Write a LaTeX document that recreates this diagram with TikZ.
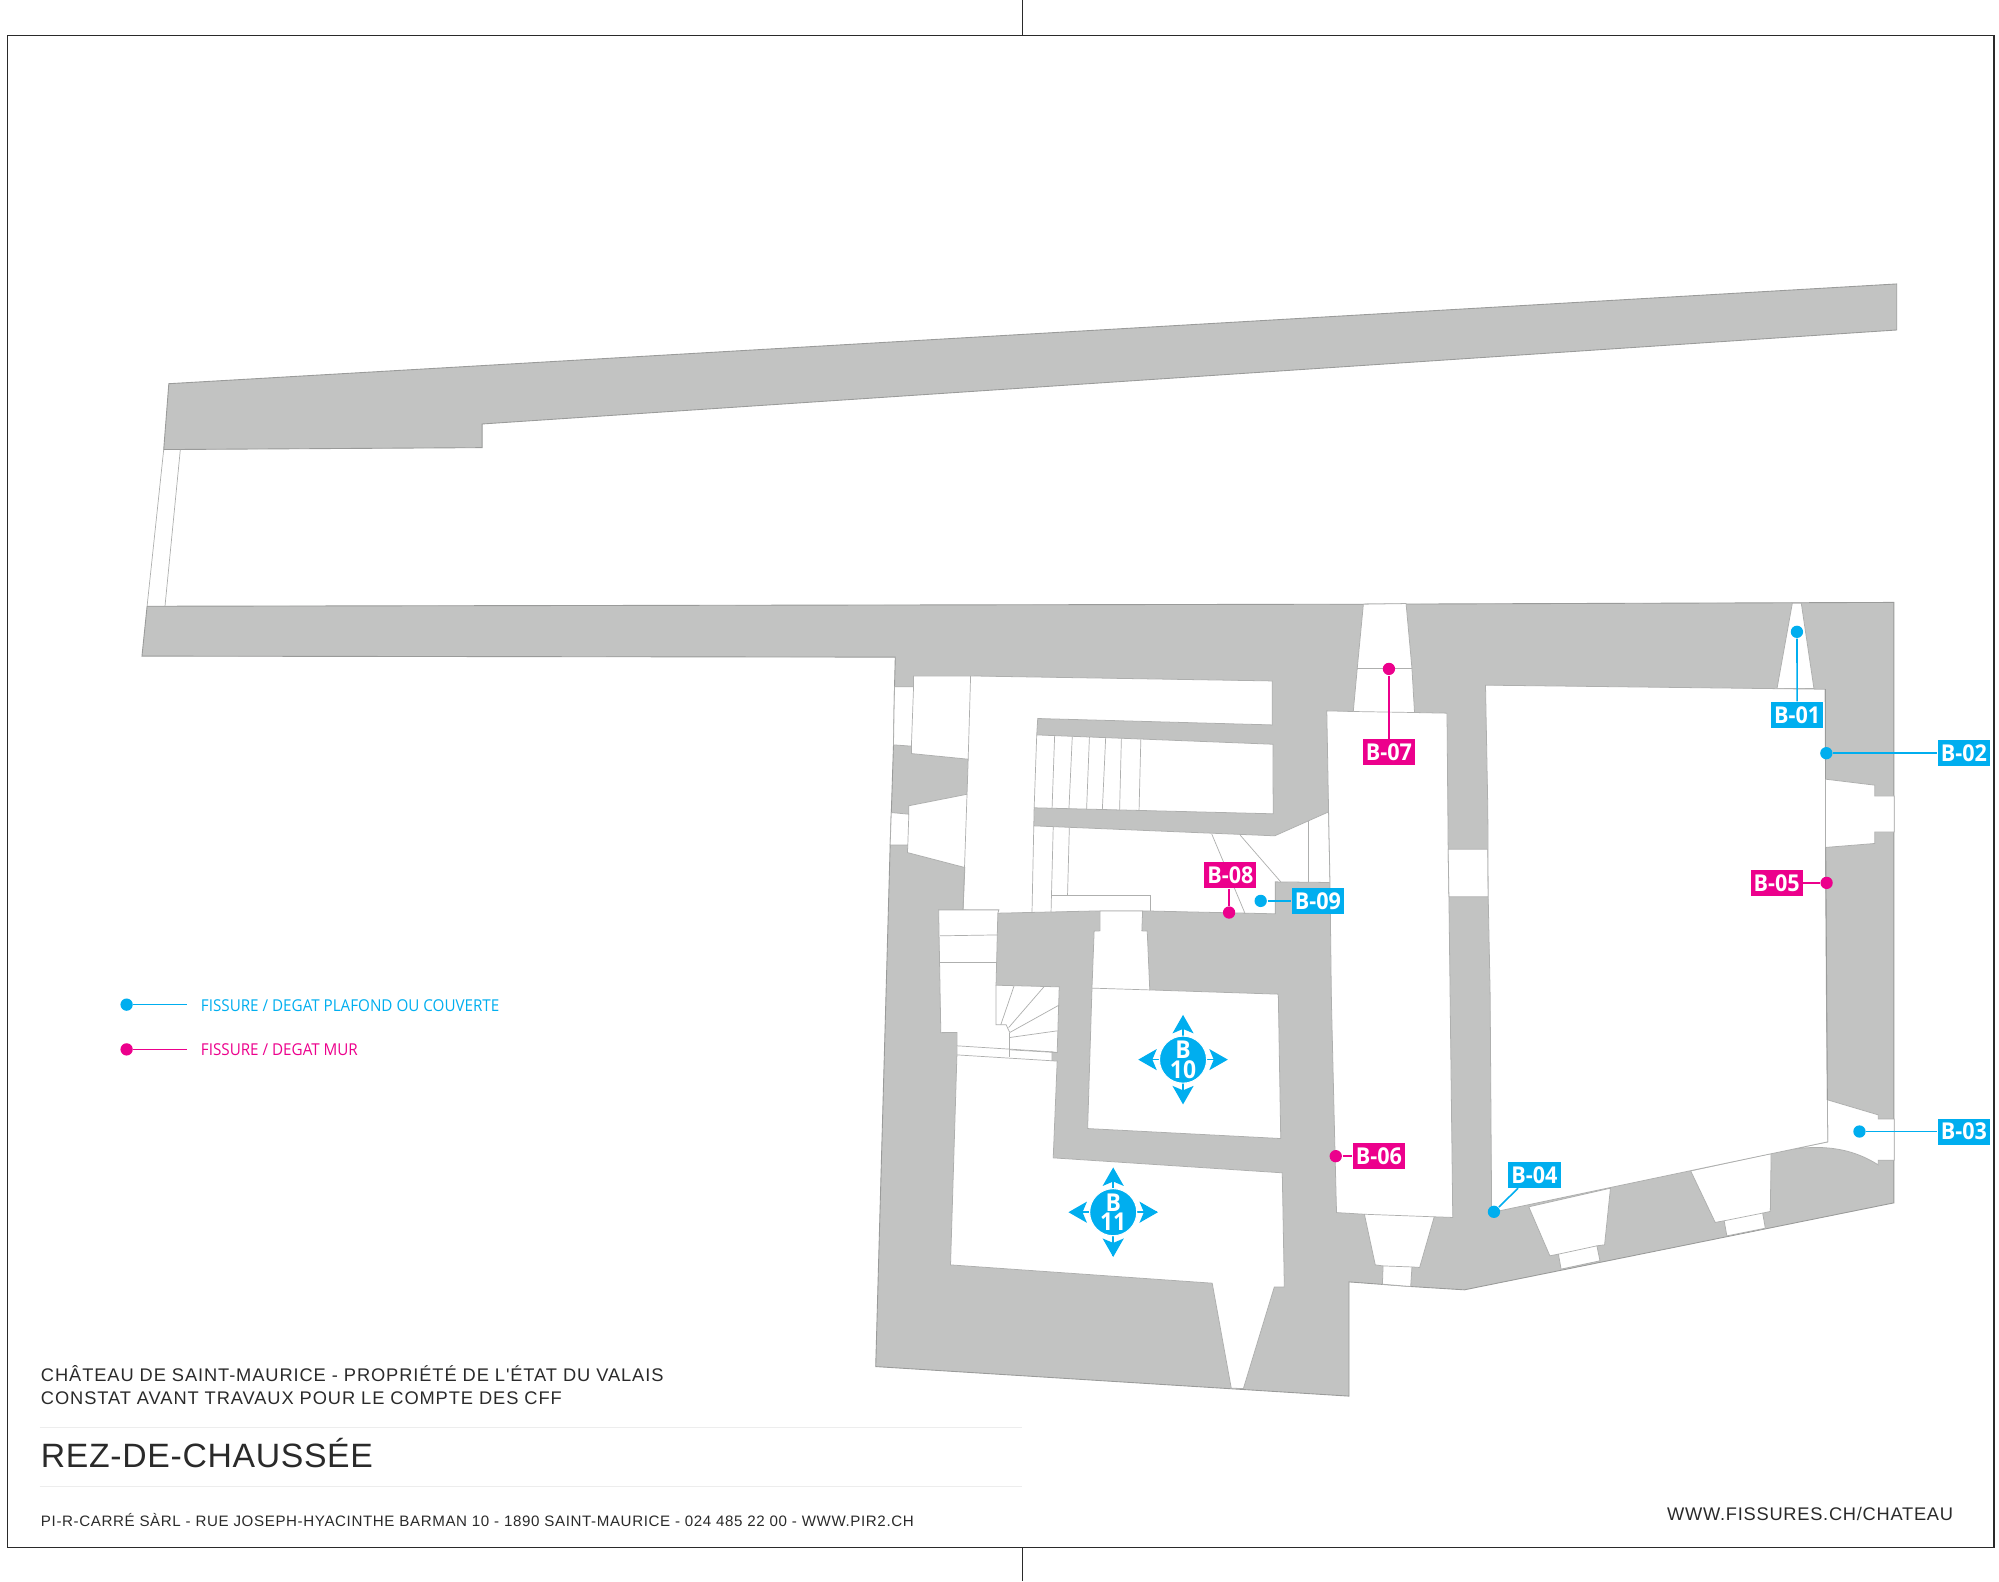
\documentclass[tikz,border=0pt]{standalone}
\usepackage{fontspec}
\setmainfont{Liberation Sans}
\newfontfamily\myr[FakeStretch=0.93]{Open Sans}
\newfontfamily\capa[LetterSpace=4.9]{Liberation Sans}
\newfontfamily\capc[LetterSpace=2]{Liberation Sans}
\newfontfamily\capb[LetterSpace=4.1]{Liberation Sans}
\newfontfamily\capd[LetterSpace=4]{Liberation Sans}
\definecolor{wall}{HTML}{C2C3C2}
\definecolor{edge}{HTML}{9A9B9A}
\definecolor{thin}{HTML}{AEAFAE}
\definecolor{cy}{HTML}{00AEEF}
\definecolor{mg}{HTML}{EC008C}
\definecolor{ink}{HTML}{2A2A2A}
\tikzset{
  x=0.012790cm,y=-0.012790cm,
  wallshape/.style={fill=wall,draw=edge,line width=0.25pt,line join=miter},
  room/.style={fill=white,draw=thin,line width=0.22pt},
  fine/.style={draw=thin,line width=0.2pt},
  frameline/.style={draw=ink,line width=0.35pt},
  rule/.style={draw=black!7,line width=0.25pt},
  dotc/.style={circle,fill=cy,inner sep=0pt,minimum size=3.5pt},
  dotm/.style={circle,fill=mg,inner sep=0pt,minimum size=3.5pt},
  linkc/.style={draw=cy,line width=0.45pt},
  linkm/.style={draw=mg,line width=0.45pt},
  tagbase/.style={inner sep=0pt,minimum width=14.8pt,minimum height=7.4pt,text=white,font=\myr\bfseries\fontsize{6.6}{7}\selectfont},
  tagc/.style={tagbase,fill=cy},
  tagm/.style={tagbase,fill=mg},
  legend/.style={anchor=west,inner sep=0pt,font=\myr\fontsize{4.65}{6}\selectfont},
  caption/.style={anchor=base west,inner sep=0pt,text=ink},
  hub/.style={circle,fill=cy,draw=white,line width=0.3pt,inner sep=0pt,minimum size=13.4pt,text=white,align=center,font=\myr\bfseries\fontsize{7}{5.6}\selectfont},
}
\newcommand\compassmark[4]{%
  \begin{scope}[shift={(#2,#3)}]
    \foreach \a in {0,90,180,270}{
      \begin{scope}[rotate=\a]
        \draw[cy,line width=0.45pt] (0,0) -- (34,0);
        \fill[cy] (35,0) -- (20.5,8.3) -- (24,0) -- (20.5,-8.3) -- cycle;
      \end{scope}
    }
    \node[hub] (#1) at (0,0) {B\\#4};
  \end{scope}}
\begin{document}
\begin{tikzpicture}
\useasboundingbox (0,0) rectangle (1563,1236.17);
% frame
\draw[frameline] (6,28) rectangle (1559,1210);
\coordinate (ta) at (799.5,0); \coordinate (tb) at (799.5,28);
\coordinate (ba) at (799.5,1210); \coordinate (bb) at (799.5,1236.17);
\draw[frameline] (ta) -- (tb);
\draw[frameline] (ba) -- (bb);
% upper terrace wall
\draw[wallshape] (132,300) -- (1483,222) -- (1483,258) -- (377,331.5) -- (377,350) -- (128,351.5) -- cycle;
\draw[fine] (128,351.5) -- (115,474);
\draw[fine] (141,351.5) -- (129,474);
% main building mass
\draw[wallshape] (115,474) -- (1066,472.4) -- (1480.8,471) -- (1480.8,940.5) -- (1145,1008.5) -- (1103,1005.9) -- (1054.8,1002.3) -- (1054.8,1091.6) -- (684.7,1068.5) -- (696,660.6) -- (696.9,635.3) -- (698.6,582.4) -- (699.4,537) -- (700,513.8) -- (111,513) -- cycle;
% room A
\draw[room] (714.3,528.5) -- (758.9,528.5) -- (994.7,532.4) -- (994.7,566.8) -- (811.4,561.8) -- (810.6,574.6) -- (995.3,581.9) -- (995.5,636.3) -- (808.6,631.6) -- (808.3,645.7) -- (996.7,653.5) -- (1038.8,634.8) -- (1039.9,690) -- (997.2,689.5) -- (997.2,714.5) -- (893.4,712.2) -- (860,712.2) -- (780.2,714) -- (753,711.4) -- (754.4,678.3) -- (709.5,666.6) -- (709.8,660.6) -- (696,660.6) -- (696.9,635.3) -- (710.6,636.6) -- (710.6,630) -- (756.1,621) -- (757,593.6) -- (712.6,589.2) -- (712.6,583.4) -- (698.6,582.4) -- (699.4,537) -- (714.3,537) -- cycle;
% room 10 and passage
\draw[room] (860,712.2) -- (860,727.8) -- (855.5,728) -- (853.8,772.6) -- (850.4,882.4) -- (1001.4,890.2) -- (999.5,777.3) -- (899,774) -- (897,728) -- (892.8,727.8) -- (893.4,712.2) -- cycle;
\draw[fine] (853.8,772.6) -- (899,774);
% stair hall and room 11
\draw[room] (733.9,711.4) -- (781,711.4) -- (780.2,714) -- (778.8,770.3) -- (828.2,771.6) -- (826.6,823) -- (822.6,822.4) -- (822.6,829.4) -- (826.6,829.6) -- (823.5,905.3) -- (1002.6,917) -- (1004.2,1006.2) -- (996.4,1006.2) -- (972.2,1085.7) -- (962.7,1085.4) -- (947.8,1003.3) -- (743.2,989) -- (748.2,824.8) -- (748.2,807.3) -- (735.6,807.4) -- cycle;
% room C
\draw[room] (1037.4,555.8) -- (1058.1,556.3) -- (1061.2,522.7) -- (1066,472.4) -- (1099.4,471.9) -- (1104,522.7) -- (1106,557.1) -- (1131.4,557.6) -- (1132.3,664) -- (1132.9,701.2) -- (1135.9,951.9) -- (1121.4,951.4) -- (1110,991) -- (1104,990.6) -- (1103,1005.9) -- (1080.9,1004.1) -- (1081.4,989.8) -- (1075.3,989) -- (1066.8,949.4) -- (1045,948.1) -- (1043.5,888) -- (1041,782) -- (1039.9,690) -- (1038.8,634.8) -- cycle;
\draw[fine] (1061.2,522.7) -- (1104,522.7);
\draw[fine] (1058.1,556.3) -- (1106,557.1);
\draw[fine] (1066.8,949.4) -- (1121.4,951.4);
\draw[fine] (1081.4,989.8) -- (1104,990.6);
% door between C and D
\draw[room] (1132.3,664) -- (1163.3,664) -- (1163.6,701.2) -- (1132.9,701.2) -- cycle;
% room D and recesses
\draw[room] (1401.4,471.6) -- (1408.4,471.6) -- (1418.3,538.4) -- (1389.4,538.4) -- cycle;
\draw[room] (1427.3,609.2) -- (1465.9,613.9) -- (1465.9,622.3) -- (1481,622.3) -- (1481,650.6) -- (1465.9,650.6) -- (1465.9,659.5) -- (1427.3,662.6) -- cycle;
\draw[room] (1195.3,943.6) -- (1211.8,981.9) -- (1218.5,980.6) -- (1220.6,992.3) -- (1251,985.8) -- (1248.6,974.1) -- (1254.6,973.3) -- (1259.2,929) -- cycle;
\draw[fine] (1218.5,980.6) -- (1248.6,974.1);
\draw[room] (1321.9,915.5) -- (1341.1,955.8) -- (1348.1,954.5) -- (1350.2,966.3) -- (1380.3,960.3) -- (1378.2,948.5) -- (1384.2,947.2) -- (1384.8,901.9) -- cycle;
\draw[fine] (1348.1,954.5) -- (1378.2,948.5);
\draw[room] (1428.8,859.9) -- (1468.6,871.7) -- (1468.6,875) -- (1481,875) -- (1481,907.1) -- (1468.6,907.1) -- (1468.6,910.8) .. controls (1450,899) and (1425,892) .. (1384.8,901.9) -- (1429.1,892.8) -- cycle;
\draw[room] (1161.5,535.7) -- (1427,538.9) -- (1427.3,609.2) -- (1427.3,662.6) -- (1428,776) -- (1428.8,859.9) -- (1429.1,892.8) -- (1166.3,948) -- (1165.1,776) -- (1163.6,701) -- (1163.3,632.7) -- cycle;
\draw[edge,line width=0.25pt] (1427.3,538.9) -- (1427.3,609.2);
\draw[edge,line width=0.25pt] (1427.5,662.6) -- (1428.8,859.9);
% lines inside room A
\draw[fine] (758.9,528.5) -- (757,593.6);
\draw[fine] (756.1,621) -- (753,711.4);
\draw[fine] (714.3,537) -- (712.6,583.4);
\draw[fine] (710.6,636.6) -- (709.8,660.6);
\draw[fine] (810.6,574.6) -- (808.6,631.6);
\draw[fine] (824.6,575.4) -- (822.6,631.9);
\draw[fine] (838.4,575.9) -- (835.8,632.4);
\draw[fine] (851.8,576.4) -- (849.6,632.7);
\draw[fine] (864.5,576.9) -- (861.9,633.2);
\draw[fine] (876.8,577.4) -- (875.4,633.5);
\draw[fine] (892,578.2) -- (890.6,634);
\draw[fine] (808.3,645.7) -- (806.9,714);
\draw[fine] (823.5,646.5) -- (821.8,713);
\draw[fine] (836.1,647.3) -- (834.7,699.7);
\draw[fine] (821.8,699.7) -- (899.8,699.7) -- (899.8,712.2);
\draw[fine] (947.5,652.2) -- (973.6,714.5);
\draw[fine] (969.7,653) -- (1001.4,689.5);
\draw[fine] (1023,641.8) -- (1023,690);
% stair lines
\draw[fine] (734.8,731.7) -- (780.2,731);
\draw[fine] (734.8,752.8) -- (779.7,752.8);
\draw[fine] (748.2,817.7) -- (822.6,822.4);
\draw[fine] (748.2,824.8) -- (822.6,829.4);
\draw[fine] (789.5,807.3) -- (789.5,826.8);
\draw[fine] (778.8,770.3) -- (778.8,801.3) -- (786.7,801.3) -- (789.5,807.3);
\draw[fine] (792.9,770.8) -- (782.5,801.3);
\draw[fine] (816.2,771.6) -- (788.7,803.4);
\draw[fine] (828,785.9) -- (789.5,807.3);
\draw[fine] (826.6,806) -- (789.5,811.2);
\draw[fine] (826.6,823) -- (789.5,820.8);
% markers
\node[dotc] (d1) at (1405,494) {};
\node[tagc] (t1) at (1405.2,559.1) {B-01};
\draw[linkc] (d1) -- (t1);
\node[dotc] (d2) at (1428,588.9) {};
\node[tagc] (t2) at (1535.6,588.9) {B-02};
\draw[linkc] (d2) -- (t2);
\node[dotc] (d3) at (1453.9,884.7) {};
\node[tagc] (t3) at (1535.6,884.7) {B-03};
\draw[linkc] (d3) -- (t3);
\node[dotc] (d4) at (1168.1,947.5) {};
\node[tagc] (t4) at (1199.8,919) {B-04};
\coordinate (t4foot) at (1187,929);
\draw[linkc] (d4) -- (t4foot);
\node[dotm] (d5) at (1428.2,690.3) {};
\node[tagm] (t5) at (1389.1,690.3) {B-05};
\draw[linkm] (d5) -- (t5);
\node[dotm] (d6) at (1044.4,904) {};
\node[tagm] (t6) at (1078.1,904) {B-06};
\draw[linkm] (d6) -- (t6);
\node[dotm] (d7) at (1086,523) {};
\node[tagm] (t7) at (1086,588.2) {B-07};
\draw[linkm] (d7) -- (t7);
\node[dotm] (d8) at (961,713.5) {};
\node[tagm] (t8) at (962,684.2) {B-08};
\draw[linkm] (d8) -- (d8 |- t8.south);
\node[dotc] (d9) at (985.7,704.4) {};
\node[tagc] (t9) at (1030.5,704.4) {B-09};
\draw[linkc] (d9) -- (t9);
% room markers
\compassmark{hubten}{925}{828.5}{10}
\compassmark{hubeleven}{870.4}{947.8}{11}
% legend
\node[dotc] (lc) at (99,785.5) {};
\coordinate (lce) at (146.5,785.5);
\draw[linkc] (lc) -- (lce);
\node[legend,text=cy] (lct) at (156.6,786) {FISSURE / DEGAT PLAFOND OU COUVERTE};
\node[dotm] (lm) at (99,820.5) {};
\coordinate (lme) at (146.5,820.5);
\draw[linkm] (lm) -- (lme);
\node[legend,text=mg] (lmt) at (156.6,821) {FISSURE / DEGAT MUR};
% title block
\node[caption,font=\capa\fontsize{5.2}{6}\selectfont] (c1) at (31.5,1080.3) {CHÂTEAU DE SAINT-MAURICE - PROPRIÉTÉ DE L'ÉTAT DU VALAIS};
\node[caption,font=\capa\fontsize{5.2}{6}\selectfont] (c2) at (31.5,1097.8) {CONSTAT AVANT TRAVAUX POUR LE COMPTE DES CFF};
\coordinate (r1a) at (31,1116); \coordinate (r1b) at (799,1116);
\draw[rule] (r1a) -- (r1b);
\node[caption,font=\capc\fontsize{9.6}{11}\selectfont] (c3) at (31.5,1147.5) {REZ-DE-CHAUSSÉE};
\coordinate (r2a) at (31,1162.5); \coordinate (r2b) at (799,1162.5);
\draw[rule] (r2a) -- (r2b);
\node[caption,font=\capb\fontsize{4.3}{5}\selectfont] (c4) at (31.5,1193.8) {PI-R-CARRÉ SÀRL - RUE JOSEPH-HYACINTHE BARMAN 10 - 1890 SAINT-MAURICE - 024 485 22 00 - WWW.PIR2.CH};
\node[caption,font=\capd\fontsize{5.2}{6}\selectfont] (c5) at (1303,1189.2) {WWW.FISSURES.CH/CHATEAU};
\end{tikzpicture}
\end{document}
